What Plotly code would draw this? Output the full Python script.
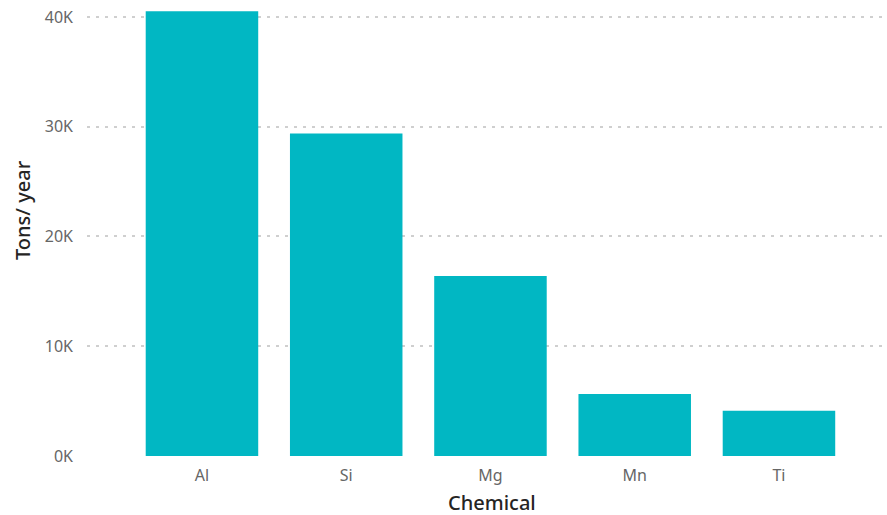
import plotly.graph_objects as go

# Annual tonnage per chemical element
chemicals = ["Al", "Si", "Mg", "Mn", "Ti"]
tons_per_year = [40530, 29390, 16390, 5650, 4130]

y_tick_values = [0, 10000, 20000, 30000, 40000]
y_tick_labels = ["0K", "10K", "20K", "30K", "40K"]

BAR_COLOR = "#01B7C3"
TICK_COLOR = "#666666"
TITLE_COLOR = "#252423"
GRID_COLOR = "#CFCFCF"

fig = go.Figure(
    go.Bar(
        x=list(range(len(chemicals))),
        y=tons_per_year,
        marker=dict(color=BAR_COLOR, line=dict(width=0)),
        hovertemplate="%{text}: %{y}<extra></extra>",
        text=chemicals,
        textposition="none",
    )
)

fig.update_layout(
    width=887,
    height=515,
    margin=dict(l=87, r=1, t=6, b=59),
    paper_bgcolor="white",
    plot_bgcolor="white",
    bargap=0.22,
    showlegend=False,
    font=dict(family="Noto Sans, Open Sans, sans-serif", size=16, color=TICK_COLOR),
)

fig.update_xaxes(
    range=[-0.797, 4.742],
    tickmode="array",
    tickvals=list(range(len(chemicals))),
    ticktext=chemicals,
    showgrid=False,
    zeroline=False,
    showline=False,
    ticks="",
    ticklabelstandoff=8,
    tickfont=dict(size=16, color=TICK_COLOR),
    fixedrange=True,
)

fig.update_yaxes(
    range=[0, 41000],
    tickmode="array",
    tickvals=y_tick_values,
    ticktext=y_tick_labels,
    showgrid=True,
    gridcolor=GRID_COLOR,
    gridwidth=1.5,
    griddash="3px,6px",
    zeroline=False,
    showline=False,
    ticks="",
    ticklabelstandoff=13,
    tickfont=dict(size=16, color=TICK_COLOR),
    fixedrange=True,
)

# Axis titles
fig.add_annotation(
    text="Chemical",
    xref="paper", yref="paper",
    x=(492 - 87) / 799, y=-(503 - 456) / 450,
    xanchor="center", yanchor="middle",
    showarrow=False,
    font=dict(family="Noto Sans, sans-serif", size=20, color=TITLE_COLOR, weight=500),
)
fig.add_annotation(
    text="Tons/ year",
    xref="paper", yref="paper",
    x=-(87 - 22) / 799, y=(456 - 210) / 450,
    xanchor="center", yanchor="middle",
    textangle=-90,
    showarrow=False,
    font=dict(family="Noto Sans, sans-serif", size=20, color=TITLE_COLOR, weight=500),
)

fig.write_html("out.html")
